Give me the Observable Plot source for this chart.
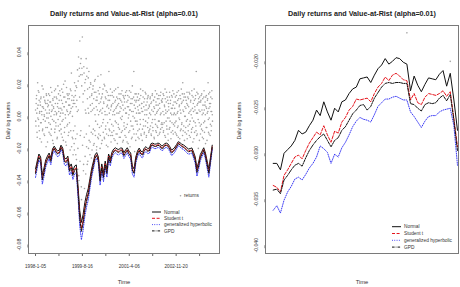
<!DOCTYPE html>
<html><head><meta charset="utf-8">
<script src="https://cdn.jsdelivr.net/npm/d3@7"></script>
<script src="https://cdn.jsdelivr.net/npm/@observablehq/plot@0.6"></script>
<style>
body{margin:0;background:#fff;}
#wrap{position:relative;width:460px;height:287px;display:flex;font-family:"Liberation Sans",Arial,sans-serif;}
#wrap > svg{display:block;flex:none}
#legend{position:absolute;left:0;top:0;pointer-events:none}
</style></head><body><div id="wrap"></div>
<script>
const title = "Daily returns and Value-at-Rist (alpha=0.01)";
const yLabel = "Daily log returns";
const xLabel = "Time";
const seriesNames = ["Normal", "Student t", "generalized hyperbolic", "GPD"];
const seriesColors = ["#111", "#e5151d", "#3b3bf5", "#111"];
const seriesDash = ["none", "3,1.6", "0.9,1.4", "2.6,1.1,0.7,1.1"];

// Full sample, observation index 1..1511
const dateTicks = [1, 201, 401, 601, 801, 1001, 1201, 1401];
const dateLabels = ["1998-1-05", "", "1999-8-16", "", "2001-4-06", "", "2002-11-20", ""];

// Daily log returns, two interleaved samplings of the series (every 3.6 days, offset 1.8 days)
const returnsStep = 3.6;
const returnsA = [
 0.004,-0.006,0.011,0.002,-0.013,0.021,0.007,-0.002,0.015,-0.009,0.003,0.009,-0.004,0.012,-0.016,0.001,0.006,-0.008,0.017,0.005,-0.011,0.000,0.010,-0.003,0.008,-0.019,0.013,0.002,-0.007,0.006,
 -0.001,0.014,-0.010,0.004,0.009,-0.005,0.018,-0.012,0.003,0.007,-0.002,0.011,-0.017,0.005,0.001,0.016,-0.008,0.008,-0.004,0.012,0.002,-0.014,0.006,0.019,-0.006,0.003,0.010,-0.009,0.000,0.013,
 0.005,-0.011,0.017,-0.003,0.008,0.002,-0.015,0.012,0.006,-0.007,0.022,-0.001,0.009,-0.018,0.004,0.014,-0.005,0.013,0.001,-0.010,0.011,0.007,-0.021,0.003,0.016,0.027,0.010,-0.013,0.006,-0.024,
 -0.009,0.012,-0.021,0.008,0.016,-0.014,0.019,-0.027,0.010,0.003,-0.033,0.022,0.037,-0.040,0.030,0.047,-0.012,0.026,0.036,-0.052,0.030,0.0495,-0.064,0.014,-0.030,0.027,-0.045,0.021,0.004,-0.036,
 0.036,-0.019,0.030,0.011,-0.028,0.024,0.002,-0.015,0.018,-0.024,0.007,0.020,-0.010,0.013,-0.021,0.004,0.017,-0.008,0.011,-0.017,0.022,0.001,-0.012,0.015,0.006,-0.019,0.010,-0.005,0.025,-0.014,
 -0.011,0.014,0.003,-0.020,0.009,0.026,-0.006,0.012,-0.015,0.005,0.017,-0.002,0.008,-0.013,0.019,0.001,-0.008,0.011,-0.018,0.006,0.015,-0.004,0.010,-0.012,0.028,0.002,-0.009,0.013,0.004,-0.016,
 0.007,-0.010,0.015,0.001,-0.006,0.012,-0.014,0.004,0.009,-0.003,0.017,-0.011,0.006,0.002,-0.017,0.011,-0.005,0.008,0.014,-0.008,0.003,-0.013,0.010,0.005,-0.002,0.016,-0.009,0.007,-0.015,0.012,
 -0.004,0.009,-0.012,0.013,0.002,-0.007,0.016,-0.016,0.006,0.010,-0.001,-0.010,0.012,0.004,-0.019,0.008,0.015,-0.006,0.003,-0.013,0.011,0.000,-0.008,0.028,0.007,-0.022,0.014,-0.003,0.009,-0.011,
 0.010,-0.005,0.006,-0.013,0.014,0.002,-0.008,0.011,-0.002,0.017,-0.011,0.005,0.008,-0.015,0.003,0.012,-0.006,0.009,-0.010,0.001,0.015,-0.003,0.007,-0.012,0.004,0.011,-0.007,0.013,-0.001,-0.009,
 0.006,-0.008,0.012,0.001,-0.011,0.009,-0.004,0.014,-0.007,0.003,0.010,-0.013,0.005,-0.002,0.016,-0.009,0.007,0.002,-0.006,0.011,-0.012,0.004,0.013,-0.003,0.008,-0.010,0.001,0.015,-0.005,0.009,
 -0.007,0.011,0.003,-0.010,0.013,-0.004,0.006,0.017,-0.013,0.002,0.009,-0.006,0.012,-0.001,-0.011,0.008,0.004,-0.008,0.015,-0.003,0.010,-0.014,0.005,0.001,0.012,-0.009,0.007,-0.005,0.014,0.002,
 0.005,-0.010,0.009,-0.003,0.013,-0.012,0.002,0.010,-0.006,0.016,-0.001,0.007,-0.014,0.004,0.011,-0.008,0.008,-0.004,0.014,0.021,-0.009,0.003,0.012,-0.015,0.006,0.000,-0.007,0.010,-0.011,0.015,
 -0.002,0.012,-0.009,0.006,0.015,-0.005,0.003,-0.013,0.010,0.001,-0.008,0.013,0.005,-0.016,0.008,-0.003,0.017,-0.010,0.004,0.011,-0.006,0.028,-0.012,0.007,0.002,0.014,-0.020,0.009,-0.004,0.012,
 0.003,-0.011,0.010,-0.005,0.014,0.001,-0.009,0.007,-0.014,0.012,0.004,-0.003,0.009,-0.017,0.006,0.013,-0.007,0.002,0.011,0.021,-0.010,0.005,-0.001,0.015,-0.012,0.008,0.003,-0.006,0.016,0.001
];
const returnsB = [
 -0.003,0.008,0.013,-0.010,0.005,-0.001,0.016,-0.006,0.010,0.002,-0.014,0.007,0.011,-0.004,0.003,0.019,-0.009,0.006,-0.002,0.012,0.001,-0.012,0.009,0.004,-0.007,0.014,-0.001,0.008,-0.016,0.010,
 0.007,-0.004,0.002,0.013,-0.011,0.009,0.000,-0.008,0.015,0.004,-0.015,0.010,0.006,-0.003,0.012,-0.010,0.003,0.017,-0.006,0.001,0.011,-0.013,0.008,-0.002,0.014,0.005,-0.009,0.016,-0.005,0.002,
 -0.008,0.010,0.004,-0.013,0.015,-0.002,0.020,0.006,-0.010,0.012,0.001,-0.016,0.009,0.018,-0.006,0.003,0.011,-0.012,0.007,0.014,-0.004,0.002,0.017,-0.009,0.005,-0.019,0.013,0.000,-0.014,0.008,
 0.010,-0.017,0.021,-0.006,0.013,-0.024,0.006,0.018,-0.011,0.029,-0.020,0.004,-0.037,0.025,0.012,-0.028,0.033,-0.009,-0.044,0.019,0.026,-0.018,0.009,-0.034,0.031,-0.013,0.016,-0.025,0.023,0.002,
 -0.011,0.025,-0.030,0.017,0.005,-0.020,0.028,-0.006,0.012,-0.016,0.021,0.003,-0.026,0.014,0.008,-0.011,0.019,-0.018,0.005,0.015,-0.009,0.023,-0.003,0.010,-0.021,0.012,0.004,-0.013,0.016,0.001,
 0.008,-0.007,0.018,-0.012,0.004,0.011,-0.017,0.002,0.014,-0.004,-0.010,0.009,0.020,-0.014,0.003,0.012,-0.006,0.016,-0.011,0.001,0.007,-0.019,0.013,0.005,-0.008,0.010,-0.002,0.017,-0.012,0.006,
 -0.005,0.013,-0.012,0.008,0.003,-0.009,0.016,0.001,-0.015,0.010,0.005,-0.004,0.012,-0.011,0.007,0.018,-0.007,0.002,-0.013,0.011,0.006,-0.001,0.014,-0.010,0.009,0.000,-0.016,0.013,0.004,-0.006,
 0.011,-0.008,0.005,0.015,-0.013,0.002,0.009,-0.005,0.013,-0.017,0.006,0.001,0.016,-0.009,0.004,-0.003,0.011,-0.014,0.008,0.019,-0.006,0.003,0.012,-0.011,-0.001,0.010,0.005,-0.015,0.014,0.002,
 -0.003,0.012,-0.009,0.004,0.010,-0.014,0.007,0.002,-0.005,0.013,-0.012,0.008,0.003,-0.008,0.016,-0.002,0.006,-0.011,0.011,0.004,-0.006,0.014,-0.013,0.001,0.009,-0.004,0.012,0.005,-0.010,0.007,
 0.002,0.011,-0.006,0.008,-0.012,0.004,0.013,-0.002,-0.009,0.010,0.006,-0.014,0.012,0.001,-0.005,0.009,-0.010,0.014,0.003,-0.007,0.007,-0.003,0.011,-0.011,0.005,0.013,-0.008,0.002,0.010,-0.004,
 0.009,-0.005,0.014,-0.009,0.001,0.007,-0.012,0.011,0.004,-0.003,0.015,-0.008,0.003,0.010,-0.015,0.006,-0.001,0.012,-0.007,0.008,0.002,-0.010,0.013,-0.004,0.005,0.016,-0.011,0.001,0.009,-0.006,
 -0.004,0.012,0.001,-0.011,0.008,0.015,-0.007,0.003,-0.013,0.011,0.006,-0.002,0.013,-0.009,0.002,0.017,-0.005,0.009,-0.012,0.004,0.010,-0.006,0.014,0.000,-0.010,0.012,0.005,-0.003,0.008,-0.014,
 0.007,-0.006,0.011,0.002,-0.012,0.014,-0.003,0.009,0.004,-0.010,0.016,-0.001,-0.007,0.012,0.003,-0.014,0.010,0.006,-0.004,0.013,-0.009,0.002,0.015,-0.011,0.008,-0.002,0.011,0.004,-0.015,0.009,
 -0.006,0.009,0.013,-0.008,0.004,-0.013,0.011,0.002,-0.004,0.016,-0.010,0.007,0.001,0.012,-0.007,0.005,-0.015,0.010,0.003,-0.002,0.014,-0.011,0.008,0.006,-0.005,0.012,-0.009,0.003,0.011,-0.003
];

// Value-at-Risk estimates, one every varStep observations
const varStep = 14.5;
const varNormal = [
 -0.0328,-0.0279,-0.0235,-0.0254,-0.0365,-0.0322,-0.0272,-0.0248,-0.0229,-0.0260,-0.0204,-0.0186,-0.0204,-0.0217,-0.0210,-0.0180,-0.0198,-0.0260,-0.0266,-0.0248,
 -0.0316,-0.0297,-0.0340,-0.0310,-0.0303,-0.0433,-0.0588,-0.0662,-0.0613,-0.0539,-0.0489,-0.0452,-0.0390,-0.0328,-0.0285,-0.0241,-0.0226,-0.0254,-0.0371,-0.0297,
 -0.0351,-0.0279,-0.0328,-0.0235,-0.0266,-0.0223,-0.0204,-0.0196,-0.0204,-0.0207,-0.0198,-0.0198,-0.0227,-0.0210,-0.0196,-0.0217,-0.0229,-0.0310,-0.0328,-0.0254,
 -0.0217,-0.0198,-0.0217,-0.0223,-0.0198,-0.0189,-0.0201,-0.0198,-0.0170,-0.0167,-0.0173,-0.0173,-0.0167,-0.0170,-0.0183,-0.0183,-0.0170,-0.0167,-0.0173,-0.0189,
 -0.0210,-0.0204,-0.0192,-0.0176,-0.0158,-0.0164,-0.0173,-0.0178,-0.0186,-0.0195,-0.0204,-0.0201,-0.0197,-0.0223,-0.0254,-0.0322,-0.0285,-0.0238,-0.0217,-0.0196,
 -0.0229,-0.0279,-0.0328,-0.0254,-0.0180
];
const varStudent = [
 -0.0348,-0.0296,-0.0249,-0.0269,-0.0387,-0.0341,-0.0288,-0.0263,-0.0243,-0.0276,-0.0216,-0.0197,-0.0216,-0.0230,-0.0223,-0.0191,-0.0210,-0.0276,-0.0282,-0.0263,
 -0.0335,-0.0315,-0.0360,-0.0329,-0.0321,-0.0459,-0.0623,-0.0702,-0.0650,-0.0571,-0.0518,-0.0479,-0.0413,-0.0348,-0.0302,-0.0255,-0.0240,-0.0269,-0.0393,-0.0315,
 -0.0372,-0.0296,-0.0348,-0.0249,-0.0282,-0.0236,-0.0216,-0.0208,-0.0216,-0.0219,-0.0210,-0.0210,-0.0241,-0.0223,-0.0208,-0.0230,-0.0243,-0.0329,-0.0348,-0.0269,
 -0.0230,-0.0210,-0.0230,-0.0236,-0.0210,-0.0200,-0.0213,-0.0210,-0.0180,-0.0177,-0.0183,-0.0183,-0.0177,-0.0180,-0.0194,-0.0194,-0.0180,-0.0177,-0.0183,-0.0200,
 -0.0223,-0.0216,-0.0204,-0.0187,-0.0167,-0.0174,-0.0183,-0.0189,-0.0197,-0.0207,-0.0216,-0.0213,-0.0209,-0.0236,-0.0269,-0.0341,-0.0302,-0.0252,-0.0230,-0.0208,
 -0.0243,-0.0296,-0.0348,-0.0269,-0.0191
];
const varGH = [
 -0.0381,-0.0324,-0.0273,-0.0295,-0.0423,-0.0374,-0.0316,-0.0288,-0.0266,-0.0302,-0.0237,-0.0216,-0.0237,-0.0252,-0.0244,-0.0209,-0.0230,-0.0302,-0.0309,-0.0288,
 -0.0367,-0.0345,-0.0394,-0.0360,-0.0351,-0.0502,-0.0682,-0.0770,-0.0711,-0.0625,-0.0567,-0.0524,-0.0452,-0.0380,-0.0331,-0.0280,-0.0262,-0.0295,-0.0430,-0.0345,
 -0.0407,-0.0324,-0.0380,-0.0273,-0.0309,-0.0259,-0.0237,-0.0227,-0.0237,-0.0240,-0.0230,-0.0230,-0.0263,-0.0244,-0.0227,-0.0252,-0.0266,-0.0360,-0.0380,-0.0295,
 -0.0252,-0.0230,-0.0252,-0.0259,-0.0230,-0.0219,-0.0233,-0.0230,-0.0197,-0.0194,-0.0201,-0.0201,-0.0194,-0.0197,-0.0212,-0.0212,-0.0197,-0.0194,-0.0201,-0.0219,
 -0.0244,-0.0237,-0.0223,-0.0204,-0.0183,-0.0190,-0.0201,-0.0206,-0.0216,-0.0226,-0.0237,-0.0233,-0.0229,-0.0259,-0.0295,-0.0374,-0.0331,-0.0276,-0.0252,-0.0227,
 -0.0266,-0.0324,-0.0380,-0.0295,-0.0209
];
const varGPD = [
 -0.0356,-0.0303,-0.0255,-0.0276,-0.0396,-0.0349,-0.0295,-0.0269,-0.0248,-0.0282,-0.0221,-0.0202,-0.0221,-0.0235,-0.0228,-0.0195,-0.0215,-0.0282,-0.0289,-0.0269,
 -0.0343,-0.0322,-0.0369,-0.0336,-0.0329,-0.0470,-0.0638,-0.0718,-0.0665,-0.0585,-0.0531,-0.0490,-0.0423,-0.0356,-0.0309,-0.0261,-0.0245,-0.0276,-0.0403,-0.0322,
 -0.0381,-0.0303,-0.0356,-0.0255,-0.0289,-0.0242,-0.0221,-0.0213,-0.0221,-0.0225,-0.0215,-0.0215,-0.0246,-0.0228,-0.0213,-0.0235,-0.0248,-0.0336,-0.0356,-0.0276,
 -0.0235,-0.0215,-0.0235,-0.0242,-0.0215,-0.0205,-0.0218,-0.0215,-0.0184,-0.0181,-0.0188,-0.0188,-0.0181,-0.0184,-0.0199,-0.0199,-0.0184,-0.0181,-0.0188,-0.0205,
 -0.0228,-0.0221,-0.0208,-0.0191,-0.0171,-0.0178,-0.0188,-0.0193,-0.0202,-0.0212,-0.0221,-0.0218,-0.0214,-0.0242,-0.0276,-0.0349,-0.0309,-0.0258,-0.0235,-0.0213,
 -0.0248,-0.0303,-0.0356,-0.0276,-0.0195
];

// Close-up window of 52 days
const tailNormal = [
 -0.0311,-0.0311,-0.0318,-0.0300,-0.0296,-0.0292,-0.0286,-0.0275,-0.0279,-0.0277,-0.0270,-0.0264,-0.0253,-0.0259,-0.0244,-0.0255,-0.0264,-0.0251,-0.0255,-0.0244,
 -0.0242,-0.0235,-0.0230,-0.0228,-0.0219,-0.0218,-0.0217,-0.0223,-0.0215,-0.0208,-0.0204,-0.0197,-0.0203,-0.0200,-0.0196,-0.0197,-0.0201,-0.0203,-0.0232,-0.0216,
 -0.0226,-0.0233,-0.0225,-0.0218,-0.0219,-0.0220,-0.0214,-0.0210,-0.0227,-0.0213,-0.0242,-0.0275
];
const tailStudent = [
 -0.0335,-0.0337,-0.0342,-0.0324,-0.0318,-0.0311,-0.0304,-0.0302,-0.0306,-0.0297,-0.0289,-0.0283,-0.0277,-0.0280,-0.0270,-0.0280,-0.0288,-0.0276,-0.0278,-0.0266,
 -0.0261,-0.0253,-0.0249,-0.0241,-0.0242,-0.0241,-0.0240,-0.0244,-0.0235,-0.0228,-0.0224,-0.0217,-0.0221,-0.0215,-0.0213,-0.0216,-0.0220,-0.0221,-0.0242,-0.0235,
 -0.0245,-0.0247,-0.0239,-0.0235,-0.0236,-0.0237,-0.0235,-0.0232,-0.0238,-0.0233,-0.0262,-0.0293
];
const tailGH = [
 -0.0362,-0.0357,-0.0365,-0.0351,-0.0342,-0.0336,-0.0328,-0.0326,-0.0329,-0.0323,-0.0316,-0.0311,-0.0304,-0.0292,-0.0295,-0.0299,-0.0311,-0.0301,-0.0304,-0.0294,
 -0.0288,-0.0280,-0.0271,-0.0265,-0.0261,-0.0263,-0.0264,-0.0266,-0.0258,-0.0249,-0.0245,-0.0241,-0.0241,-0.0239,-0.0238,-0.0240,-0.0242,-0.0242,-0.0255,-0.0260,
 -0.0266,-0.0272,-0.0265,-0.0260,-0.0259,-0.0259,-0.0255,-0.0253,-0.0252,-0.0251,-0.0270,-0.0313
];
const tailGPD = [
 -0.0340,-0.0339,-0.0344,-0.0329,-0.0324,-0.0318,-0.0313,-0.0311,-0.0314,-0.0305,-0.0297,-0.0291,-0.0286,-0.0282,-0.0279,-0.0286,-0.0293,-0.0286,-0.0283,-0.0275,
 -0.0271,-0.0264,-0.0257,-0.0253,-0.0248,-0.0247,-0.0253,-0.0249,-0.0240,-0.0234,-0.0228,-0.0224,-0.0223,-0.0224,-0.0223,-0.0223,-0.0224,-0.0224,-0.0246,-0.0247,
 -0.0251,-0.0254,-0.0247,-0.0245,-0.0246,-0.0245,-0.0240,-0.0237,-0.0243,-0.0236,-0.0264,-0.0297
];
const tailReturnIdx = [38, 50];
const tailReturnVal = [-0.0169, -0.0200];

// ---- build tables
const fullReturns = [
  ...returnsA.map((v, j) => ({t: 1 + j * returnsStep, v})),
  ...returnsB.map((v, j) => ({t: 1 + returnsStep / 2 + j * returnsStep, v}))
];
const fullVar = [varNormal, varStudent, varGH, varGPD].map(arr => arr.map((v, k) => ({t: 1 + k * varStep, v})));
const tailVar = [tailNormal, tailStudent, tailGH, tailGPD].map(arr => arr.map((v, k) => ({t: k + 1, v})));
const tailReturns = tailReturnIdx.map((t, i) => ({t, v: tailReturnVal[i]}));

const baseStyle = {fontFamily: "'Liberation Sans', Arial, sans-serif", fontSize: "5px", color: "#333", background: "white", overflow: "visible"};
const axisColor = "#666";
const dotColor = "#a2a2a2";

function varLines(sets) {
  return sets.map((d, i) => Plot.line(d, {x: "t", y: "v", stroke: seriesColors[i], strokeWidth: 1,
    strokeDasharray: seriesDash[i] === "none" ? null : seriesDash[i]}));
}

function decorations(yLabelDx) {
  return [
    Plot.frame({stroke: "#7a7a7a", strokeWidth: 1}),
    Plot.text([title], {frameAnchor: "top", dy: -15, fontWeight: "bold", fontSize: 7.2, fill: "#222"}),
    Plot.text([xLabel], {frameAnchor: "bottom", dy: 30, fontSize: 5.8, fill: "#333"}),
    Plot.text([yLabel], {frameAnchor: "left", dx: yLabelDx, rotate: -90, fontSize: 5.2, fill: "#333"})
  ];
}

const left = Plot.plot({
  width: 230, height: 287,
  marginLeft: 28, marginRight: 11, marginTop: 25, marginBottom: 34,
  style: baseStyle,
  x: {domain: [-59, 1571]},
  y: {domain: [-0.0856, 0.0567]},
  marks: [
    Plot.dot(fullReturns, {x: "t", y: "v", r: 0.8, fill: dotColor, stroke: "none"}),
    ...varLines(fullVar),
    Plot.axisX({ticks: dateTicks, tickFormat: (d, i) => dateLabels[i], tickSize: 3, tickPadding: 8, stroke: axisColor, fontSize: 4.6, fill: "#333", label: null}),
    Plot.axisY({ticks: [-0.08, -0.06, -0.04, -0.02, 0, 0.02, 0.04], tickFormat: d => d.toFixed(2), tickSize: 3, tickPadding: 4.5,
      rotate: -90, textAnchor: "middle", lineAnchor: "bottom", stroke: axisColor, fontSize: 5.2, fill: "#333", label: null}),
    ...decorations(-20)
  ]
});

const right = Plot.plot({
  width: 230, height: 287,
  marginLeft: 35, marginRight: 2, marginTop: 25, marginBottom: 34,
  style: baseStyle,
  x: {domain: [-1.13, 52.28], axis: null},
  y: {domain: [-0.0409, -0.0161]},
  marks: [
    Plot.dot(tailReturns, {x: "t", y: "v", r: 0.8, fill: dotColor, stroke: "none"}),
    ...varLines(tailVar),
    Plot.axisY({ticks: [-0.04, -0.035, -0.03, -0.025, -0.02], tickFormat: d => d.toFixed(3), tickSize: 3, tickPadding: 5,
      rotate: -90, textAnchor: "middle", lineAnchor: "bottom", stroke: axisColor, fontSize: 5.2, fill: "#333", label: null}),
    ...decorations(-26)
  ]
});

const wrap = document.getElementById("wrap");
wrap.appendChild(left);
wrap.appendChild(right);

// legends
const leg = d3.select(wrap).append("svg").attr("id", "legend").attr("width", 460).attr("height", 287)
  .style("font-family", "'Liberation Sans', Arial, sans-serif").style("font-size", "4.8px");

function drawLegend(g, x0, y0, gap) {
  seriesNames.forEach((name, i) => {
    const y = y0 + i * gap;
    g.append("line").attr("x1", x0).attr("x2", x0 + 9).attr("y1", y).attr("y2", y)
      .attr("stroke", seriesColors[i]).attr("stroke-width", 1)
      .attr("stroke-dasharray", seriesDash[i] === "none" ? null : seriesDash[i]);
    g.append("text").attr("x", x0 + 12).attr("y", y).attr("dy", "0.35em").attr("fill", "#333").text(name);
  });
}
const gl = leg.append("g");
gl.append("circle").attr("cx", 180.5).attr("cy", 195.7).attr("r", 0.8).attr("fill", dotColor);
gl.append("text").attr("x", 184).attr("y", 195.7).attr("dy", "0.35em").attr("fill", "#333").text("returns");
drawLegend(gl, 152, 212, 6.3);
drawLegend(leg.append("g"), 392, 226.7, 6.8);
</script></body></html>
